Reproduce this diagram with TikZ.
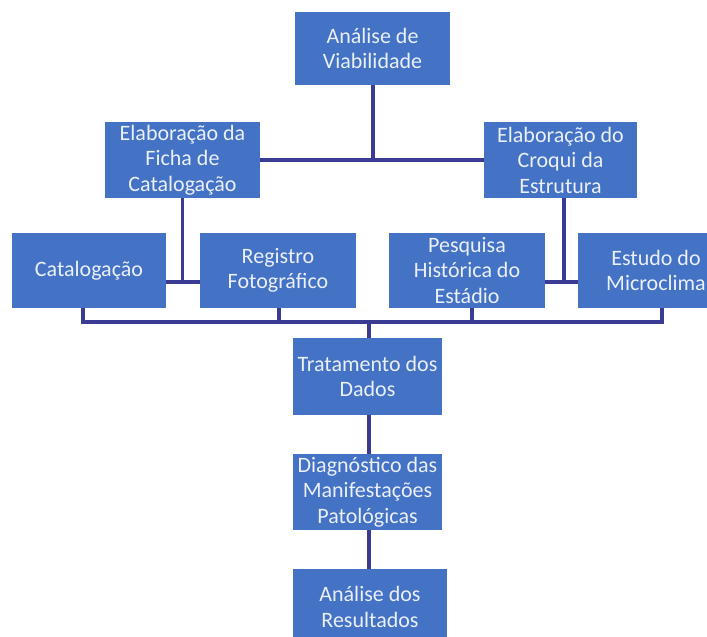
\documentclass[tikz,border=0pt]{standalone}
\usepackage{fontspec}
\setmainfont{Carlito}
\definecolor{boxblue}{RGB}{68,114,196}
\definecolor{linenavy}{RGB}{58,60,148}
\definecolor{txt}{RGB}{234,239,248}
\tikzset{
  box/.style={fill=boxblue, text=txt, align=center, inner sep=0pt,
    font=\fontsize{22}{25.5}\selectfont},
  conn/.style={draw=linenavy, line width=3.5pt}
}
\begin{document}
\begin{tikzpicture}[x=1pt,y=-1pt]
\useasboundingbox (0,0) rectangle (707,637);
\fill[white] (0,0) rectangle (707,637);
\clip (0,0) rectangle (707,637);
% junction coordinates
\coordinate (j1) at (373,160);
\coordinate (jf) at (182.5,282);
\coordinate (jc) at (564,282);
\coordinate (b1) at (83,322);
\coordinate (b2) at (279,322);
\coordinate (b3) at (472,322);
\coordinate (b4) at (662,322);
\coordinate (bt) at (369,322);
% nodes
\node[box, minimum width=155pt, minimum height=73pt] (top) at (372.5,48.5) {Análise de\\Viabilidade};
\node[box, minimum width=155pt, minimum height=76pt] (ficha) at (182.5,160) {Elaboração da\\Ficha de\\Catalogação};
\node[box, minimum width=153pt, minimum height=76pt] (croqui) at (560.5,160) {Elaboração do\\Croqui da\\Estrutura};
\node[box, minimum width=154pt, minimum height=75pt] (cat) at (89,270.5) {Catalogação};
\node[box, minimum width=156pt, minimum height=75pt] (reg) at (278,270.5) {Registro\\Fotográfico};
\node[box, minimum width=156pt, minimum height=75pt] (pes) at (467,270.5) {Pesquisa\\Histórica do\\Estádio};
\node[box, minimum width=156pt, minimum height=75pt] (est) at (656,270.5) {Estudo do\\Microclima};
\node[box, minimum width=149pt, minimum height=77pt] (trat) at (367.5,376.5) {Tratamento dos\\Dados};
\node[box, minimum width=149pt, minimum height=76pt] (diag) at (367.5,492) {Diagnóstico das\\Manifestações\\Patológicas};
\node[box, minimum width=154pt, minimum height=76pt] (res) at (370,607) {Análise dos\\Resultados};
% connectors
\draw[conn] (top.south -| j1) -- (j1);
\draw[conn] (ficha.east) -- (croqui.west);
\draw[conn] (ficha.south) -- (jf);
\draw[conn] (cat.east |- jf) -- (reg.west |- jf);
\draw[conn] (croqui.south -| jc) -- (jc);
\draw[conn] (pes.east |- jc) -- (est.west |- jc);
\draw[conn] (cat.south -| b1) -- (b1) -- (b4) -- (est.south -| b4);
\draw[conn] (reg.south -| b2) -- (b2);
\draw[conn] (pes.south -| b3) -- (b3);
\draw[conn] (bt) -- (trat.north -| bt);
\draw[conn] (trat.south -| bt) -- (diag.north -| bt);
\draw[conn] (diag.south -| bt) -- (res.north -| bt);
\end{tikzpicture}
\end{document}
